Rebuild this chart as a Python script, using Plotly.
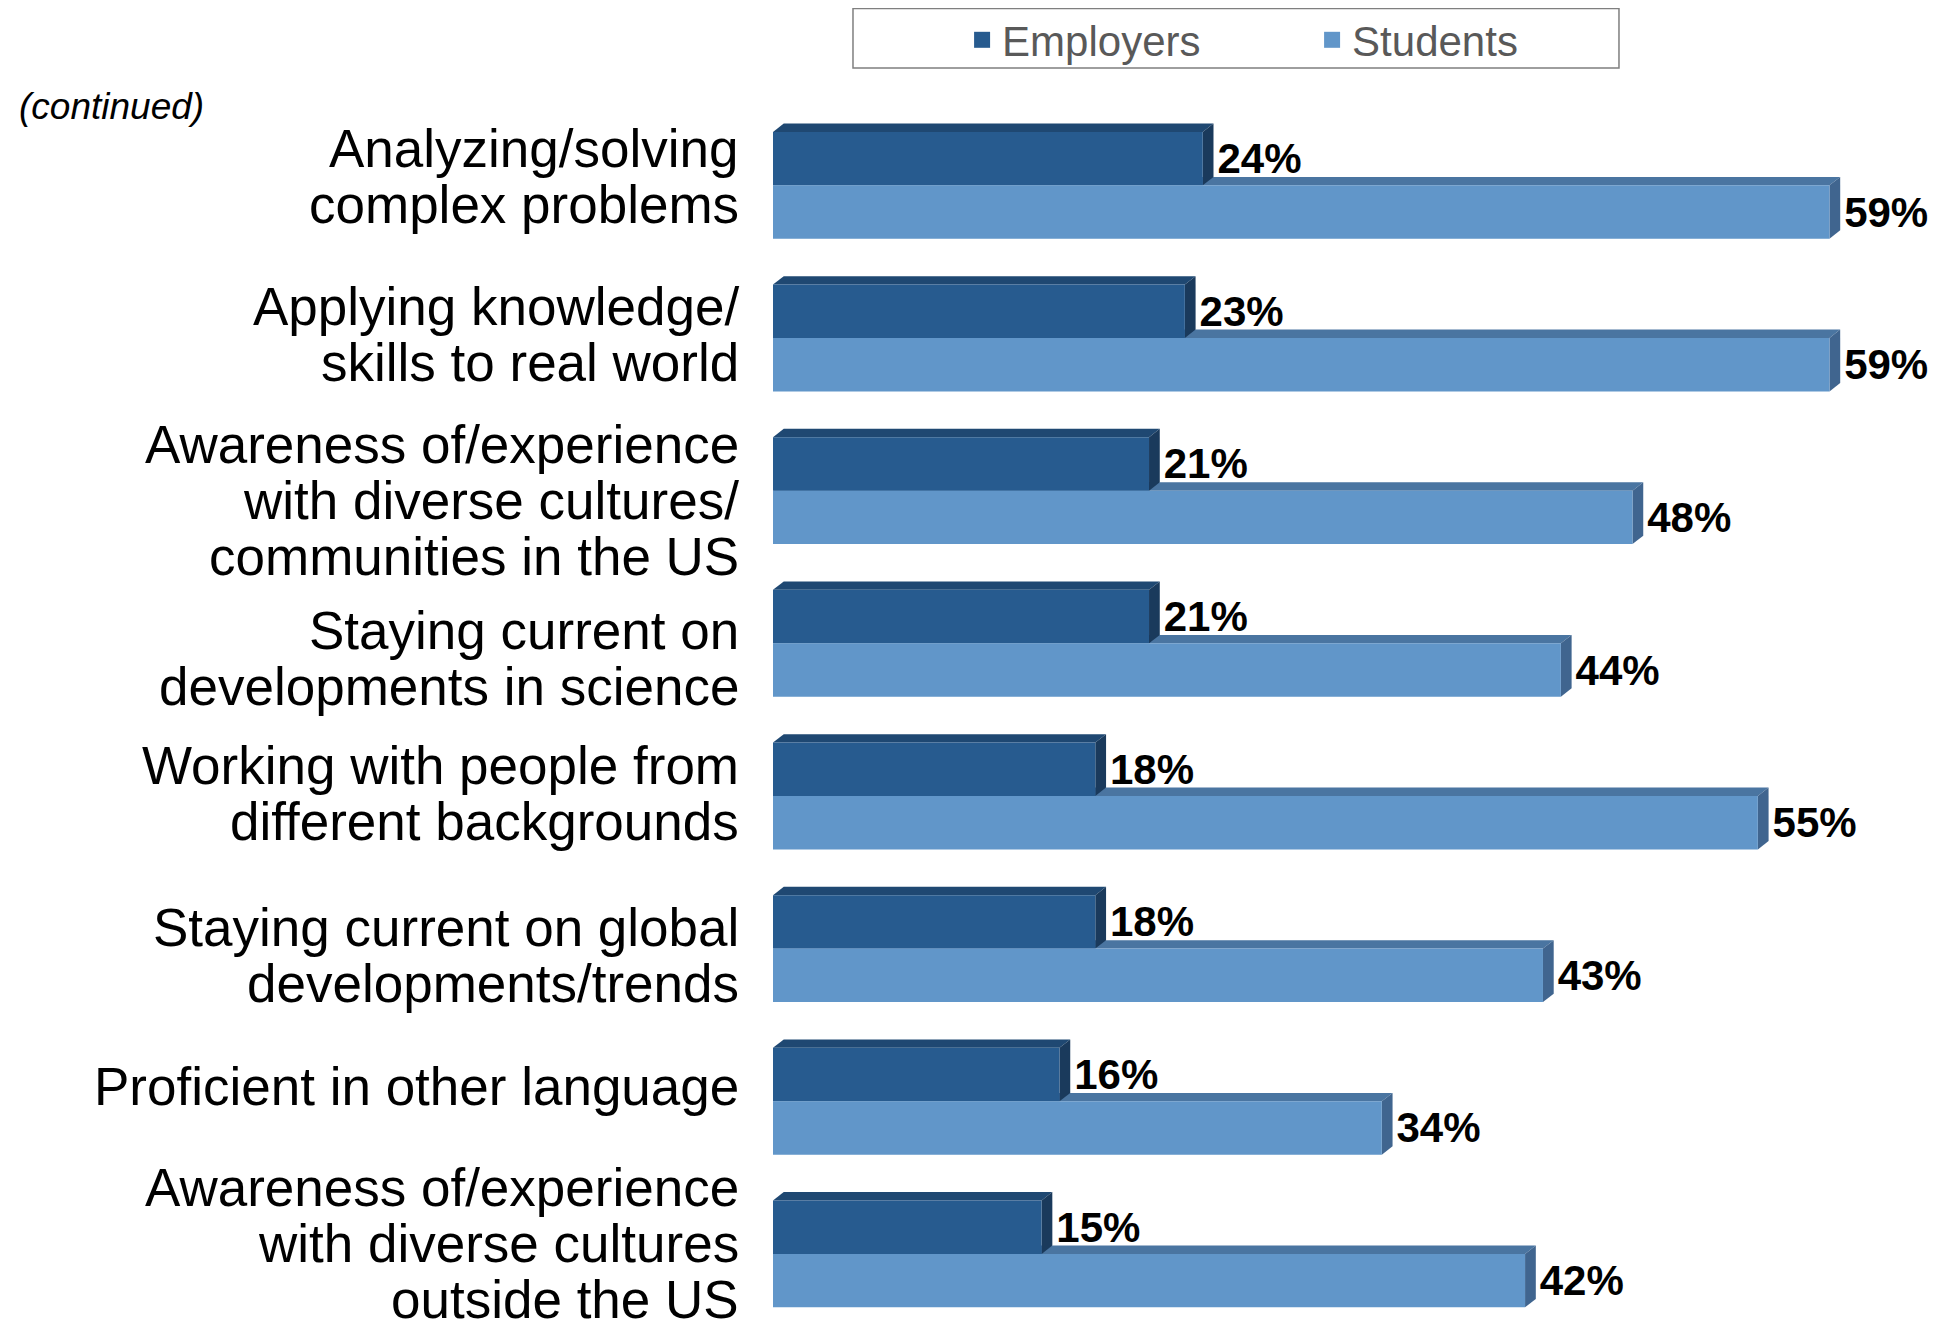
import plotly.graph_objects as go


# =====================================================
# DATA
# =====================================================

skills = [
    "Analyzing/solving<br>complex problems",
    "Applying knowledge/<br>skills to real world",
    "Awareness of/experience<br>with diverse cultures/<br>communities in the US",
    "Staying current on<br>developments in science",
    "Working with people from<br>different backgrounds",
    "Staying current on global<br>developments/trends",
    "Proficient in other language",
    "Awareness of/experience<br>with diverse cultures<br>outside the US",
]

employers = [24, 23, 21, 21, 18, 18, 16, 15]
students = [59, 59, 48, 44, 55, 43, 34, 42]

FONT = "Liberation Sans, Arial, sans-serif"

EMP_FRONT, EMP_TOP, EMP_SIDE = "#275B8F", "#1F4872", "#1A3A5C"
STU_FRONT, STU_TOP, STU_SIDE = "#6196C9", "#4A75A1", "#40658F"

BARGAP = 0.3
HALF = (1 - BARGAP) / 2      # thickness of one bar in category units
DX, DY = 0.6, 0.055          # 3d depth in axis units

LABEL_SIZE = 53
LINE_STEP = 56               # px between label baselines (tight, like the slide)
# the slide's text boxes are not exactly centred on their bars (px, up = +)
LABEL_NUDGE = [9, 3, -10, -15, 2, -7, 15, 10]


# =====================================================
# 3D FACES
# =====================================================

def path(points):
    return "M " + " L ".join(f"{x},{y}" for x, y in points) + " Z"


def faces(value, top, bottom, top_color, side_color):
    top_face = [(0, top), (value, top), (value + DX, top - DY), (DX, top - DY)]
    side_face = [(value, top), (value + DX, top - DY),
                 (value + DX, bottom - DY), (value, bottom)]
    return [
        dict(type="path", path=path(top_face), xref="x", yref="y",
             fillcolor=top_color, line_width=0, layer="below"),
        dict(type="path", path=path(side_face), xref="x", yref="y",
             fillcolor=side_color, line_width=0, layer="below"),
    ]


shapes = []
for i, (e, s) in enumerate(zip(employers, students)):
    shapes += faces(s, i, i + HALF, STU_TOP, STU_SIDE)
    shapes += faces(e, i - HALF, i, EMP_TOP, EMP_SIDE)

# legend frame
shapes.append(
    dict(type="rect", xref="paper", yref="paper",
         x0=0.0698, x1=0.7382, y0=1.034, y1=1.0833,
         line=dict(color="#7F7F7F", width=1.5), fillcolor="white",
         layer="below")
)


# =====================================================
# CATEGORY LABELS (one annotation per line)
# =====================================================

annotations = []
for skill, nudge in zip(skills, LABEL_NUDGE):
    lines = skill.split("<br>")
    n = len(lines)
    for k, line in enumerate(lines):
        annotations.append(
            dict(
                text=line,
                xref="paper", yref="y",
                x=0, y=skill,
                xanchor="right", yanchor="middle",
                xshift=-33,
                yshift=nudge + ((n - 1) / 2 - k) * LINE_STEP,
                showarrow=False,
                borderpad=0,
                font=dict(family=FONT, size=LABEL_SIZE, color="black"),
            )
        )

annotations.append(
    dict(
        text="<i>(continued)</i>",
        xref="paper", yref="paper",
        x=-0.6597, y=1.0017,
        xanchor="left", yanchor="middle",
        showarrow=False,
        font=dict(family=FONT, size=37, color="black"),
    )
)


# =====================================================
# FIGURE
# =====================================================

fig = go.Figure()

for name, vals, color in [("Employers", employers, EMP_FRONT),
                          ("Students", students, STU_FRONT)]:
    fig.add_trace(
        go.Bar(
            y=skills,
            x=vals,
            orientation="h",
            name=name,
            marker=dict(color=color, line_width=0),
            texttemplate="\u00a0%{x}%",
            textposition="outside",
            constraintext="none",
            cliponaxis=False,
            textfont=dict(family=FONT, size=42, color="black", weight="bold"),
            showlegend=False,
        )
    )
    fig.add_trace(
        go.Scatter(
            x=[None], y=[None], mode="markers", name=name,
            marker=dict(symbol="square", size=16, color=color),
        )
    )

# the page body adds an 8px margin, so the figure is 8px smaller each way
fig.update_layout(
    width=1928,
    height=1317,
    barmode="group",
    bargap=BARGAP,
    bargroupgap=0,
    plot_bgcolor="white",
    paper_bgcolor="white",
    margin=dict(l=765, r=17, t=101, b=10, autoexpand=False),
    shapes=shapes,
    annotations=annotations,
    font=dict(family=FONT, color="black"),
    legend=dict(
        orientation="h",
        x=0.165, xanchor="left",
        y=1.0854, yanchor="top",
        bgcolor="rgba(0,0,0,0)",
        borderwidth=0,
        font=dict(family=FONT, size=42, color="#595959"),
        entrywidth=305,
        entrywidthmode="pixels",
    ),
)

fig.update_xaxes(
    range=[0, 64],
    visible=False,
)

fig.update_yaxes(
    range=[7.4, -0.5],
    showgrid=False,
    showline=False,
    showticklabels=False,
    ticks="",
    automargin=False,
)

fig.write_html("out.html")
